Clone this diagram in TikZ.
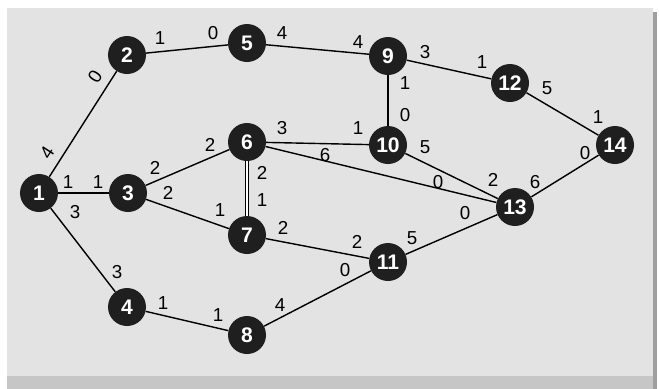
\documentclass[tikz,border=0pt]{standalone}
\usepackage{fontspec}
\setmainfont{Liberation Sans}
\begin{document}
\begin{tikzpicture}[x=0.03cm, y=-0.03cm]
  \tikzset{
    vtx/.style={fill=black!88, circle, minimum size=1.14cm, inner sep=0pt, text=white, font=\fontsize{18}{18}\selectfont\bfseries},
    wt/.style={inner sep=0pt, font=\fontsize{16}{16}\selectfont},
    link/.style={line width=1.2pt},
  }
  \useasboundingbox (0,0) rectangle (659,389);

  % panel
  \fill[white] (0,0) rectangle (659,389);
  \fill[gray!45] (7,376) rectangle (657,389);
  \fill[gray!75] (653,12) rectangle (657,389);
  \fill[gray!22] (7,8) rectangle (653,376);

  \foreach \n/\x/\y in {
    1/39/193, 2/127/55, 3/128/193, 4/127/307,
    5/247/43, 6/247/142, 7/247/235, 8/247/335,
    9/388/56, 10/388/145, 11/388/262,
    12/510/83, 13/515/207, 14/615/145
  }{
    \node[vtx] (n\n) at (\x,\y) {\n};
  }

  \foreach \a/\b in {1/2, 2/5, 5/9, 9/12, 12/14, 9/10, 1/3, 3/6, 3/7,
    6/10, 6/13, 10/13, 13/14, 7/11, 11/13, 1/4, 4/8, 8/11}
    \draw[link] (n\a) -- (n\b);
  \draw[link, double, double distance=1.5pt, line width=0.9pt] (n6) -- (n7);

  % weights
  \foreach \x/\y/\t/\r [count=\i] in {
    47/153/4/57, 95/77/0/57,
    160/38/1/0, 213/33/0/0,
    282/33/4/0, 358/42/4/0,
    425/52/3/0, 482/62/1/0,
    547/88/5/0, 598/117/1/0,
    405/83/1/0, 405/115/0/0,
    68/182/1/0, 98/182/1/0,
    155/168/2/0, 210/145/2/0,
    168/193/2/0, 220/210/1/0,
    262/173/2/0, 262/200/1/0,
    282/128/3/0, 358/128/1/0,
    325/155/6/0, 438/182/0/0,
    425/147/5/0, 493/180/2/0,
    535/182/6/0, 585/153/0/0,
    283/228/2/0, 357/242/2/0,
    412/238/5/0, 465/213/0/0,
    75/212/3/0, 117/272/3/0,
    163/303/1/0, 218/315/1/0,
    280/305/4/0, 345/270/0/0
  }{
    \node[wt, rotate=\r] (w\i) at (\x,\y) {\t};
  }
\end{tikzpicture}
\end{document}
